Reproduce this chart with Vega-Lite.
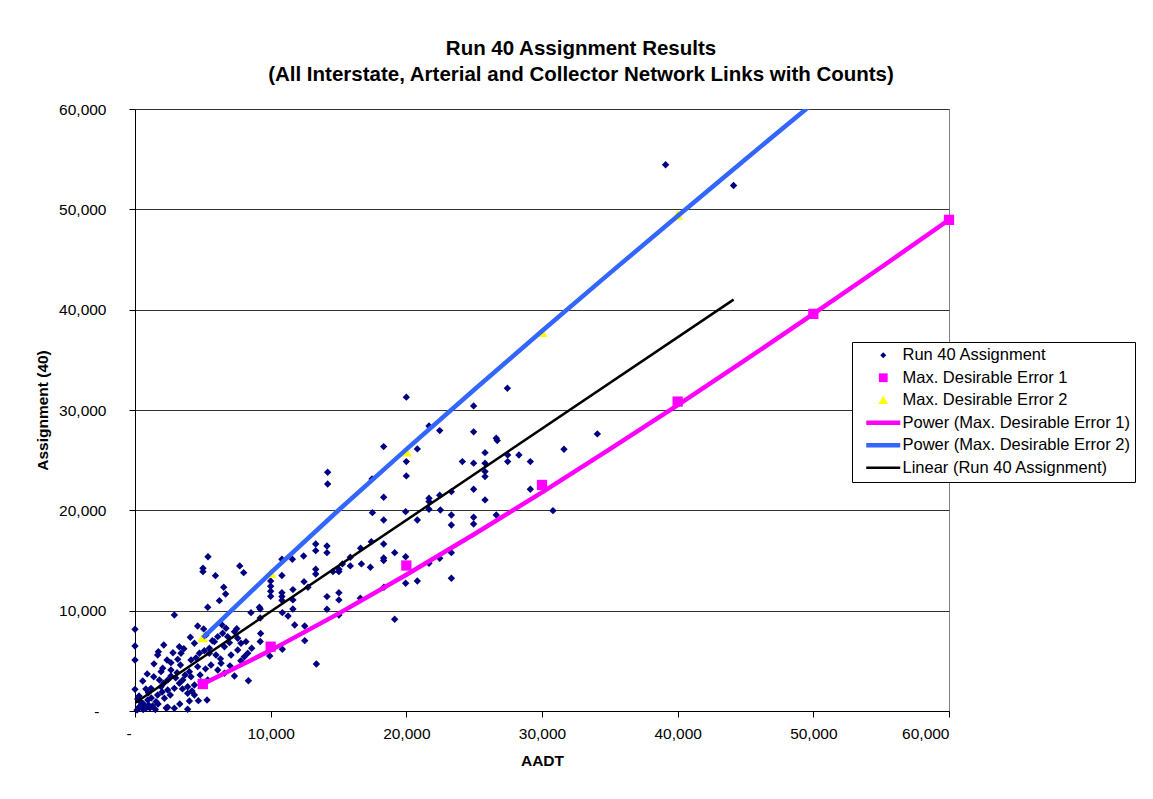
{
  "$schema": "https://vega.github.io/schema/vega-lite/v6.json",
  "width": 814,
  "height": 602,
  "autosize": {"type": "none"},
  "padding": {"left": 135, "top": 109, "right": 204, "bottom": 88},
  "background": "white",
  "title": {
    "text": ["Run 40 Assignment Results", "(All Interstate, Arterial and Collector Network Links with Counts)"],
    "anchor": "middle",
    "frame": "group",
    "dx": 39,
    "offset": 16.5,
    "fontSize": 20.5,
    "fontWeight": "bold",
    "font": "Liberation Sans",
    "lineHeight": 26,
    "color": "black"
  },
  "config": {
    "font": "Liberation Sans",
    "view": {"stroke": "#808080", "strokeWidth": 1},
    "axisX": {
      "domainColor": "black", "tickColor": "black", "tickSize": 6,
      "labelFontSize": 15.5, "labelColor": "black", "labelPadding": 9,
      "titleFontSize": 15.5, "titleFontWeight": "bold", "titleColor": "black", "titlePadding": 12,
      "grid": false
    },
    "axisY": {
      "domainColor": "black", "tickColor": "black", "tickSize": 6,
      "labelFontSize": 15.5, "labelColor": "black", "labelPadding": 23,
      "titleFontSize": 15.5, "titleFontWeight": "bold", "titleColor": "black", "titlePadding": 8,
      "grid": true, "gridColor": "#333333", "gridWidth": 1
    }
  },
  "datasets": {
    "assign": [
      {"aadt":2900,"asg":9570},{"aadt":5360,"asg":10340},{"aadt":6220,"asg":11000},{"aadt":8550,"asg":9800},{"aadt":9170,"asg":10340},
      {"aadt":0,"asg":8150},{"aadt":0,"asg":6480},{"aadt":0,"asg":5080},{"aadt":0,"asg":2160},{"aadt":4620,"asg":8470},
      {"aadt":5060,"asg":8180},{"aadt":4080,"asg":7350},{"aadt":4380,"asg":6750},{"aadt":1720,"asg":5910},{"aadt":1670,"asg":5580},
      {"aadt":2120,"asg":6580},{"aadt":2360,"asg":5080},{"aadt":2650,"asg":4820},{"aadt":3150,"asg":5150},{"aadt":3350,"asg":4590},
      {"aadt":2040,"asg":4260},{"aadt":1920,"asg":3920},{"aadt":1380,"asg":3420},{"aadt":570,"asg":2990},{"aadt":1180,"asg":2260},
      {"aadt":990,"asg":1820},{"aadt":2650,"asg":4090},{"aadt":2650,"asg":3490},{"aadt":3100,"asg":3820},{"aadt":3520,"asg":3090},
      {"aadt":3690,"asg":3590},{"aadt":4130,"asg":3420},{"aadt":3880,"asg":2420},{"aadt":3270,"asg":2760},{"aadt":2900,"asg":2260},
      {"aadt":2410,"asg":2090},{"aadt":1920,"asg":2420},{"aadt":1670,"asg":1600},{"aadt":2170,"asg":1270},{"aadt":1550,"asg":930},
      {"aadt":570,"asg":770},{"aadt":320,"asg":430},{"aadt":810,"asg":270},{"aadt":1300,"asg":500},{"aadt":940,"asg":1100},
      {"aadt":2410,"asg":370},{"aadt":2900,"asg":270},{"aadt":3880,"asg":170},{"aadt":4010,"asg":1000},{"aadt":4670,"asg":1030},
      {"aadt":5310,"asg":1100},{"aadt":3880,"asg":1760},{"aadt":4380,"asg":1600},{"aadt":4010,"asg":3920},{"aadt":4750,"asg":5750},
      {"aadt":5110,"asg":6010},{"aadt":5480,"asg":5750},{"aadt":5970,"asg":5580},{"aadt":5480,"asg":6250},{"aadt":5850,"asg":6910},
      {"aadt":6100,"asg":7410},{"aadt":6460,"asg":7750},{"aadt":6710,"asg":8250},{"aadt":6830,"asg":7410},{"aadt":6960,"asg":6810},
      {"aadt":6590,"asg":6410},{"aadt":7330,"asg":7910},{"aadt":7570,"asg":7250},{"aadt":7810,"asg":6750},{"aadt":7080,"asg":5580},
      {"aadt":7570,"asg":6080},{"aadt":8180,"asg":6910},{"aadt":8310,"asg":5750},{"aadt":8600,"asg":6250},{"aadt":8060,"asg":5410},
      {"aadt":5600,"asg":4590},{"aadt":6100,"asg":4090},{"aadt":6340,"asg":4760},{"aadt":6590,"asg":3760},{"aadt":7330,"asg":3490},
      {"aadt":8360,"asg":3020},{"aadt":3390,"asg":5750},{"aadt":3270,"asg":6410},{"aadt":5230,"asg":7580},{"aadt":4130,"asg":5080},
      {"aadt":4620,"asg":4420},{"aadt":4860,"asg":2920},{"aadt":5360,"asg":3090},{"aadt":4380,"asg":2590},{"aadt":2410,"asg":3090},
      {"aadt":2120,"asg":2760},{"aadt":1800,"asg":3090},{"aadt":9260,"asg":7730},{"aadt":9230,"asg":6930},{"aadt":9230,"asg":10170},
      {"aadt":9230,"asg":9270},{"aadt":150,"asg":100},{"aadt":600,"asg":150},{"aadt":1100,"asg":300},{"aadt":400,"asg":900},
      {"aadt":1500,"asg":150},{"aadt":700,"asg":500},
      {"aadt":300,"asg":1500},{"aadt":800,"asg":2200},{"aadt":1200,"asg":1300},{"aadt":1700,"asg":700},{"aadt":2000,"asg":1900},
      {"aadt":2600,"asg":1600},{"aadt":3000,"asg":3300},{"aadt":3500,"asg":2200},{"aadt":4200,"asg":2000},{"aadt":4800,"asg":3600},
      {"aadt":5200,"asg":4200},{"aadt":1400,"asg":4700},{"aadt":900,"asg":3700},{"aadt":2800,"asg":5800},{"aadt":3600,"asg":6200},
      {"aadt":4500,"asg":5300},{"aadt":6300,"asg":5200},{"aadt":7000,"asg":4500},{"aadt":7800,"asg":5000},{"aadt":6400,"asg":8600},
      {"aadt":2300,"asg":300},{"aadt":3300,"asg":700},{"aadt":1000,"asg":600},{"aadt":200,"asg":1200},{"aadt":5700,"asg":7000},
      {"aadt":7500,"asg":8200},
      {"aadt":5380,"asg":15380},{"aadt":5010,"asg":14230},{"aadt":5010,"asg":13890},{"aadt":5930,"asg":13490},{"aadt":6540,"asg":12330},
      {"aadt":6680,"asg":11660},{"aadt":7720,"asg":14460},{"aadt":8010,"asg":13790},{"aadt":11280,"asg":9470},{"aadt":10830,"asg":15120},
      {"aadt":11600,"asg":15120},{"aadt":12430,"asg":15450},{"aadt":13320,"asg":16650},{"aadt":13320,"asg":15980},{"aadt":14150,"asg":16450},
      {"aadt":14150,"asg":15780},{"aadt":17500,"asg":19770},{"aadt":18330,"asg":21310},{"aadt":18330,"asg":19040},{"aadt":19950,"asg":19870},
      {"aadt":20810,"asg":19040},{"aadt":19140,"asg":15780},{"aadt":19950,"asg":15380},{"aadt":18330,"asg":15250},{"aadt":18330,"asg":15000},
      {"aadt":17420,"asg":16880},{"aadt":16690,"asg":14660},{"aadt":15870,"asg":14460},{"aadt":15030,"asg":14130},{"aadt":14590,"asg":13890},
      {"aadt":13320,"asg":14130},{"aadt":13320,"asg":13660},{"aadt":12460,"asg":12890},{"aadt":12750,"asg":12330},{"aadt":15030,"asg":11790},
      {"aadt":15030,"asg":11070},{"aadt":14150,"asg":11400},{"aadt":14150,"asg":10140},{"aadt":18350,"asg":12330},{"aadt":19950,"asg":12730},
      {"aadt":20810,"asg":12960},{"aadt":11640,"asg":12100},{"aadt":11640,"asg":11070},{"aadt":11640,"asg":10170},{"aadt":10830,"asg":13500},
      {"aadt":10000,"asg":12960},{"aadt":10000,"asg":12430},{"aadt":10000,"asg":11930},{"aadt":10000,"asg":11430},{"aadt":10830,"asg":11790},
      {"aadt":10830,"asg":11400},{"aadt":10830,"asg":11030},{"aadt":16630,"asg":16220},{"aadt":18330,"asg":16650},{"aadt":15870,"asg":15320},
      {"aadt":15030,"asg":13890},{"aadt":15290,"asg":14660},{"aadt":17350,"asg":14330},{"aadt":21670,"asg":14730},{"aadt":22460,"asg":15220},
      {"aadt":10860,"asg":9800},{"aadt":15030,"asg":9570},{"aadt":11770,"asg":8570},{"aadt":12510,"asg":8470},{"aadt":12510,"asg":7010},
      {"aadt":10860,"asg":6150},{"aadt":9930,"asg":5480},{"aadt":19140,"asg":9140},{"aadt":13370,"asg":4690},{"aadt":16610,"asg":11240},
      {"aadt":14200,"asg":23800},{"aadt":14200,"asg":22630},{"aadt":18330,"asg":26350},{"aadt":17470,"asg":23130},{"aadt":23320,"asg":13230},
      {"aadt":23320,"asg":15780},{"aadt":21670,"asg":21210},{"aadt":22510,"asg":20040},{"aadt":23320,"asg":19540},{"aadt":23320,"asg":18540},
      {"aadt":21670,"asg":28410},{"aadt":22460,"asg":27950},{"aadt":20810,"asg":26120},{"aadt":20000,"asg":24860},{"aadt":20000,"asg":23430},
      {"aadt":24130,"asg":24860},{"aadt":24960,"asg":24700},{"aadt":24960,"asg":27820},{"aadt":25800,"asg":25750},{"aadt":25800,"asg":23860},
      {"aadt":25800,"asg":23360},{"aadt":25800,"asg":21040},{"aadt":24960,"asg":22100},{"aadt":26630,"asg":27190},{"aadt":26700,"asg":26950},
      {"aadt":26630,"asg":19540},{"aadt":24960,"asg":19310},{"aadt":24960,"asg":18640},{"aadt":27470,"asg":25520},{"aadt":27470,"asg":24860},
      {"aadt":28300,"asg":25520},{"aadt":29140,"asg":24860},{"aadt":29140,"asg":22100},{"aadt":31620,"asg":26090},{"aadt":30810,"asg":19970},
      {"aadt":34080,"asg":27620},{"aadt":20000,"asg":31280},{"aadt":24960,"asg":30410},{"aadt":27450,"asg":32170},{"aadt":25800,"asg":24700},
      {"aadt":23320,"asg":21860},{"aadt":22460,"asg":21510},{"aadt":21670,"asg":20870},{"aadt":21670,"asg":20110},{"aadt":39110,"asg":54440},
      {"aadt":44120,"asg":52370}
    ],
    "err1": [
      {"aadt":5000,"asg":2690},{"aadt":10000,"asg":6410},{"aadt":20000,"asg":14500},{"aadt":30000,"asg":22530},
      {"aadt":40000,"asg":30840},{"aadt":50000,"asg":39580},{"aadt":60000,"asg":48950}
    ],
    "err2": [
      {"aadt":5000,"asg":7300},{"aadt":10000,"asg":13700},{"aadt":20000,"asg":25800},{"aadt":30000,"asg":37700},{"aadt":40000,"asg":49400}
    ],
    "pow1": [
      {"aadt":5000,"asg":2690},{"aadt":10000,"asg":6043},{"aadt":15000,"asg":9702},{"aadt":20000,"asg":13575},
      {"aadt":25000,"asg":17617},{"aadt":30000,"asg":21795},{"aadt":35000,"asg":26091},{"aadt":40000,"asg":30494},
      {"aadt":45000,"asg":34992},{"aadt":50000,"asg":39572},{"aadt":55000,"asg":44228},{"aadt":60000,"asg":48960}
    ],
    "pow2": [
      {"aadt":5000,"asg":7280},{"aadt":10000,"asg":13777},{"aadt":15000,"asg":20010},{"aadt":20000,"asg":26074},
      {"aadt":25000,"asg":32018},{"aadt":30000,"asg":37870},{"aadt":35000,"asg":43640},{"aadt":40000,"asg":49343},
      {"aadt":45000,"asg":55000},{"aadt":50000,"asg":60590},{"aadt":60000,"asg":71665}
    ],
    "lin": [
      {"aadt":0,"asg":804.16},{"aadt":44120,"asg":41000}
    ]
  },
  "layer": [
    {
      "data": {"name": "assign"},
      "mark": {"type": "point", "filled": true, "size": 97, "opacity": 1},
      "encoding": {
        "x": {"field": "aadt", "type": "quantitative", "scale": {"domain": [0, 60000], "nice": false},
          "axis": {"title": "AADT", "values": [0,10000,20000,30000,40000,50000,60000],
            "labelExpr": "datum.value == 0 ? '-' : format(datum.value, ',')",
            "labelOffset": {"condition": {"test": "datum.value == 0", "value": -9}, "value": 0}}},
        "y": {"field": "asg", "type": "quantitative", "scale": {"domain": [0, 60000], "nice": false},
          "axis": {"title": "Assignment (40)", "values": [0,10000,20000,30000,40000,50000,60000],
            "labelExpr": "datum.value == 0 ? '-' : format(datum.value, ',')",
            "labelPadding": {"condition": {"test": "datum.value == 0", "value": 30}, "value": 23}}},
        "color": {
          "datum": "Run 40 Assignment",
          "scale": {
            "domain": ["Run 40 Assignment", "Max. Desirable Error 1", "Max. Desirable Error 2", "Power (Max. Desirable Error 1)", "Power (Max. Desirable Error 2)", "Linear (Run 40 Assignment)"],
            "range": ["#000080", "#FF00FF", "#FFFF00", "#FF00FF", "#3366FF", "#000000"]
          },
          "legend": {
            "title": null,
            "orient": "none",
            "legendX": 717,
            "legendY": 233,
            "strokeColor": "black",
            "fillColor": "white",
            "padding": 5,
            "labelFont": "Liberation Sans",
            "labelFontSize": 16.5,
            "labelColor": "black",
            "labelLimit": 500,
            "labelOffset": 11,
            "symbolOffset": 18,
            "symbolSize": 64,
            "symbolStrokeWidth": 0,
            "rowPadding": 5.5
          }
        },
        "shape": {
          "datum": "Run 40 Assignment",
          "scale": {
            "domain": ["Run 40 Assignment", "Max. Desirable Error 1", "Max. Desirable Error 2", "Power (Max. Desirable Error 1)", "Power (Max. Desirable Error 2)", "Linear (Run 40 Assignment)"],
            "range": [
              "M0,-0.75L0.75,0L0,0.75L-0.75,0Z",
              "M-1.1,-1.1H1.1V1.1H-1.1Z",
              "M0,-1.15L1.2,0.95H-1.2Z",
              "M-4.25,-0.56H4.25V0.56H-4.25Z",
              "M-4.25,-0.56H4.25V0.56H-4.25Z",
              "M-4.25,-0.31H4.25V0.31H-4.25Z"
            ]
          },
          "legend": {
            "title": null,
            "orient": "none",
            "legendX": 717,
            "legendY": 233,
            "strokeColor": "black",
            "fillColor": "white",
            "padding": 5,
            "labelFont": "Liberation Sans",
            "labelFontSize": 16.5,
            "labelColor": "black",
            "labelLimit": 500,
            "labelOffset": 11,
            "symbolOffset": 18,
            "symbolSize": 64,
            "symbolStrokeWidth": 0,
            "rowPadding": 5.5
          }
        }
      }
    },
    {
      "data": {"name": "err1"},
      "mark": {"type": "point", "filled": true, "size": 87, "opacity": 1},
      "encoding": {
        "x": {"field": "aadt", "type": "quantitative"},
        "y": {"field": "asg", "type": "quantitative"},
        "color": {"datum": "Max. Desirable Error 1"},
        "shape": {"datum": "Max. Desirable Error 1"}
      }
    },
    {
      "data": {"name": "err2"},
      "mark": {"type": "point", "filled": true, "size": 85, "opacity": 1},
      "encoding": {
        "x": {"field": "aadt", "type": "quantitative"},
        "y": {"field": "asg", "type": "quantitative"},
        "color": {"datum": "Max. Desirable Error 2"},
        "shape": {"datum": "Max. Desirable Error 2"}
      }
    },
    {
      "data": {"name": "pow1"},
      "mark": {"type": "line", "strokeWidth": 4.5, "clip": true},
      "encoding": {
        "x": {"field": "aadt", "type": "quantitative"},
        "y": {"field": "asg", "type": "quantitative"},
        "color": {"datum": "Power (Max. Desirable Error 1)"}
      }
    },
    {
      "data": {"name": "pow2"},
      "mark": {"type": "line", "strokeWidth": 4.5, "clip": true},
      "encoding": {
        "x": {"field": "aadt", "type": "quantitative"},
        "y": {"field": "asg", "type": "quantitative"},
        "color": {"datum": "Power (Max. Desirable Error 2)"}
      }
    },
    {
      "data": {"name": "lin"},
      "mark": {"type": "line", "strokeWidth": 2.5, "clip": true},
      "encoding": {
        "x": {"field": "aadt", "type": "quantitative"},
        "y": {"field": "asg", "type": "quantitative"},
        "color": {"datum": "Linear (Run 40 Assignment)"}
      }
    },
    {
      "mark": {"type": "text", "font": "Liberation Sans", "fontSize": 16.5, "align": "center", "baseline": "middle", "color": "black"},
      "encoding": {
        "x": {"datum": 47510, "type": "quantitative"},
        "y": {"datum": 46810, "type": "quantitative"},
        "text": {"value": "y = 0.911x + 804.16"}
      }
    },
    {
      "mark": {"type": "text", "font": "Liberation Sans", "fontSize": 16.5, "align": "center", "baseline": "middle", "color": "black"},
      "encoding": {
        "x": {"datum": 47510, "type": "quantitative"},
        "y": {"datum": 44470, "type": "quantitative"},
        "text": {"value": "R² = 0.8242"}
      }
    }
  ]
}
